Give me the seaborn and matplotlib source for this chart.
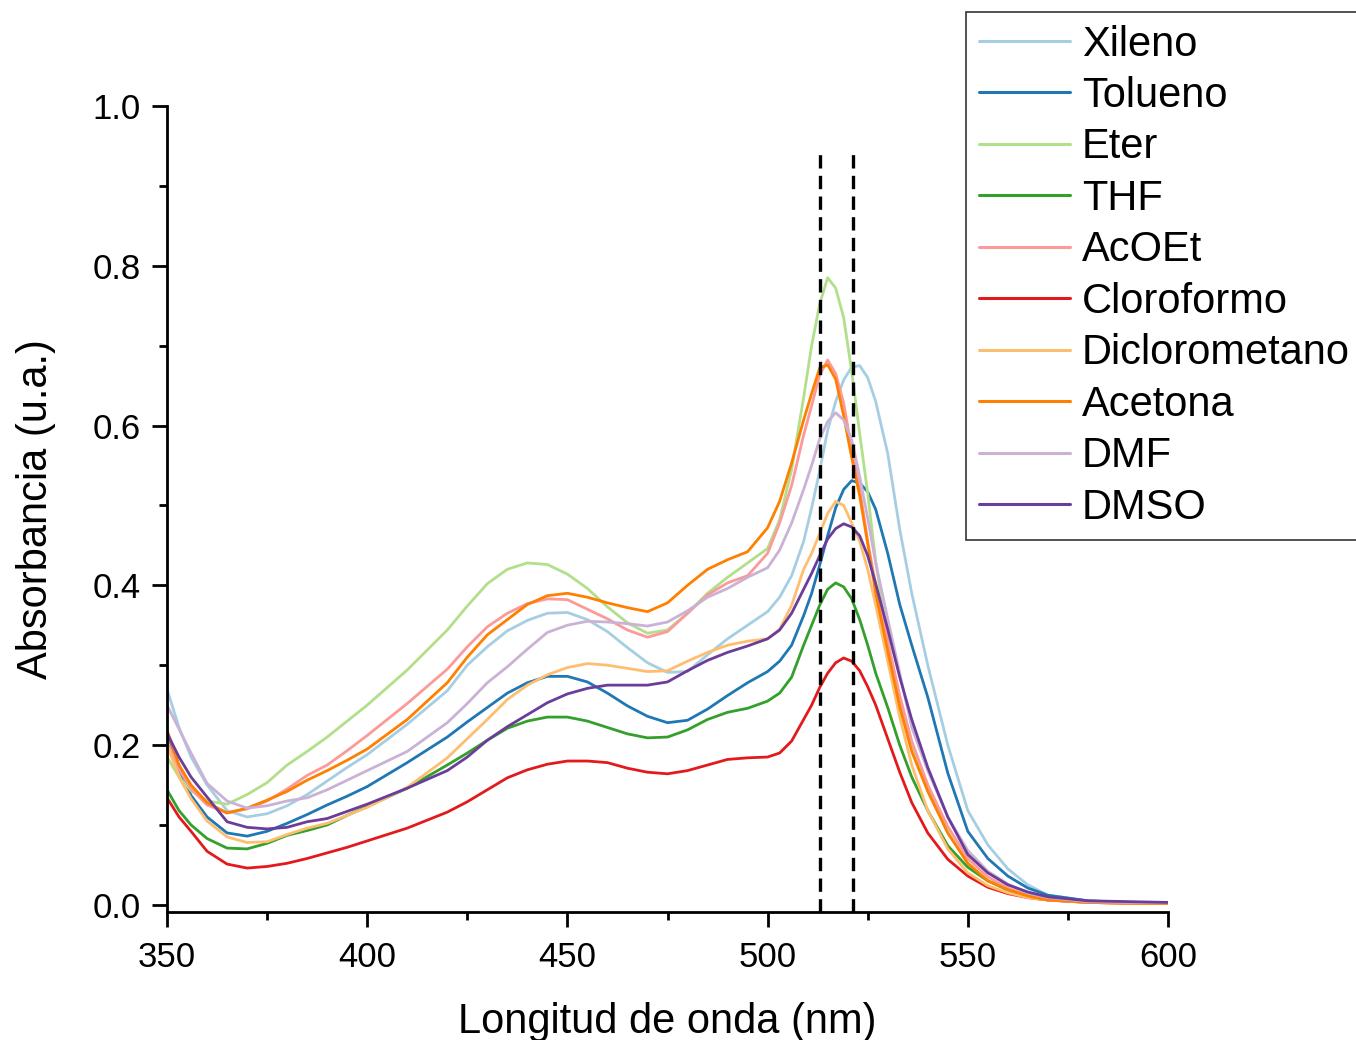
import matplotlib
matplotlib.use("Agg")
import matplotlib.pyplot as plt
from matplotlib.lines import Line2D
from matplotlib.ticker import MultipleLocator, FormatStrFormatter
import numpy as np
import pandas as pd
import seaborn as sns

# ---------------- data ----------------
wavelength = [350, 353, 356, 360, 365, 370, 375, 380, 385, 390, 395, 400, 410, 420, 425,
              430, 435, 440, 445, 450, 455, 460, 465, 470, 475, 480, 485, 490, 495, 500,
              503, 506, 509, 511, 513, 515, 517, 519, 521, 523, 525, 527, 530, 533, 536,
              540, 545, 550, 555, 560, 565, 570, 580, 590, 600]

xileno = [.270, .222, .185, .150, .118, .110, .114, .124, .138, .155, .172, .188, .226, .268, .300,
          .323, .343, .356, .365, .366, .357, .342, .322, .303, .291, .292, .313, .333, .350, .367,
          .385, .412, .455, .497, .543, .594, .630, .657, .673, .675, .660, .630, .565, .470, .390,
          .300, .200, .118, .075, .045, .025, .012, .005, .003, .003]

tolueno = [.215, .170, .137, .110, .090, .086, .092, .102, .113, .125, .136, .148, .178, .210, .229,
           .247, .265, .278, .286, .286, .279, .265, .249, .236, .228, .231, .245, .262, .278, .292,
           .305, .325, .362, .390, .425, .462, .497, .520, .531, .528, .517, .495, .440, .376, .325,
           .260, .165, .092, .058, .036, .021, .012, .005, .003, .003]

eter = [.185, .160, .143, .130, .126, .138, .153, .175, .192, .210, .230, .250, .294, .344, .374,
        .402, .420, .428, .426, .414, .396, .373, .353, .340, .344, .365, .390, .410, .428, .446,
        .482, .545, .635, .700, .752, .785, .772, .735, .668, .590, .515, .430, .330, .255, .200,
        .150, .090, .052, .030, .018, .010, .006, .003, .002, .002]

thf = [.144, .118, .100, .083, .071, .070, .077, .087, .093, .100, .112, .123, .146, .175, .190,
       .206, .221, .230, .235, .235, .230, .222, .214, .209, .210, .219, .232, .241, .246, .255,
       .265, .285, .325, .350, .375, .395, .403, .398, .383, .357, .325, .290, .247, .200, .160,
       .118, .074, .047, .030, .019, .012, .008, .004, .003, .003]

acoet = [.205, .170, .145, .125, .115, .120, .130, .145, .162, .175, .193, .212, .252, .295, .323,
         .348, .365, .377, .383, .382, .370, .358, .344, .335, .342, .365, .388, .403, .412, .440,
         .478, .525, .588, .625, .663, .682, .665, .628, .570, .522, .455, .400, .330, .262, .205,
         .150, .098, .058, .035, .021, .012, .007, .004, .003, .002]

cloroformo = [.134, .110, .092, .067, .051, .046, .048, .052, .058, .065, .072, .080, .096, .116, .129,
              .144, .159, .169, .176, .180, .180, .178, .171, .166, .164, .168, .175, .182, .184, .185,
              .190, .205, .232, .250, .272, .290, .303, .309, .305, .293, .273, .250, .208, .166, .128,
              .090, .057, .036, .022, .014, .009, .006, .003, .002, .002]

diclorometano = [.200, .160, .133, .105, .085, .078, .079, .088, .096, .102, .112, .122, .147, .184, .208,
                 .232, .257, .275, .288, .297, .302, .300, .296, .292, .293, .305, .316, .325, .330, .333,
                 .345, .375, .420, .440, .465, .490, .505, .500, .478, .455, .420, .375, .305, .235, .175,
                 .118, .070, .040, .024, .015, .009, .006, .003, .002, .002]

acetona = [.219, .175, .150, .128, .115, .121, .131, .142, .156, .168, .181, .195, .232, .278, .310,
           .338, .357, .376, .387, .390, .385, .378, .372, .367, .378, .400, .420, .432, .442, .472,
           .505, .553, .607, .640, .672, .676, .658, .612, .560, .512, .452, .390, .318, .248, .192,
           .142, .090, .052, .030, .019, .011, .006, .003, .002, .002]

dmf = [.250, .220, .190, .152, .130, .121, .124, .130, .134, .144, .156, .168, .192, .228, .252,
       .278, .298, .320, .341, .350, .355, .354, .352, .349, .354, .368, .385, .396, .410, .422,
       .444, .478, .520, .550, .583, .605, .616, .607, .582, .536, .484, .428, .358, .290, .222,
       .168, .110, .068, .042, .026, .015, .009, .004, .003, .003]

dmso = [.215, .185, .160, .135, .104, .097, .095, .097, .104, .108, .117, .126, .146, .168, .185,
        .206, .223, .238, .253, .264, .271, .275, .275, .275, .279, .293, .306, .316, .324, .333,
        .344, .365, .395, .415, .437, .458, .471, .477, .473, .462, .437, .402, .345, .285, .232,
        .172, .110, .063, .040, .025, .016, .010, .005, .004, .003]

solvents = ["Xileno", "Tolueno", "Eter", "THF", "AcOEt", "Cloroformo",
            "Diclorometano", "Acetona", "DMF", "DMSO"]
series = [xileno, tolueno, eter, thf, acoet, cloroformo,
          diclorometano, acetona, dmf, dmso]

ref_lines = [513.2, 521.4]   # dashed reference wavelengths
ref_top = 0.945

# ---------------- style ----------------
sns.set_theme(style="ticks")
plt.rcParams['font.family'] = ['Liberation Sans', 'DejaVu Sans']
plt.rcParams['text.color'] = 'black'
plt.rcParams['axes.labelcolor'] = 'black'
plt.rcParams['xtick.color'] = 'black'
plt.rcParams['ytick.color'] = 'black'

colors = sns.color_palette("Paired", 10)

df = pd.DataFrame({
    "nm": np.tile(wavelength, len(solvents)),
    "abs": np.concatenate([np.asarray(s, dtype=float) for s in series]),
    "Solvente": np.repeat(solvents, len(wavelength)),
})

fig = plt.figure(figsize=(13.56, 10.4), dpi=100)
ax = fig.add_axes([167 / 1356, 128 / 1040, 1001 / 1356, 806 / 1040])

sns.lineplot(data=df, x="nm", y="abs", hue="Solvente", hue_order=solvents,
             palette=colors, linewidth=2.0, estimator=None, legend=False, ax=ax)

ax.vlines(ref_lines, ymin=-0.009, ymax=ref_top, colors="black",
          linestyles=(0, (4, 2.2)), linewidth=2.4, zorder=5)

ax.set_xlim(350, 600)
ax.set_ylim(-0.009, 1.0)
ax.xaxis.set_major_locator(MultipleLocator(50))
ax.xaxis.set_minor_locator(MultipleLocator(25))
ax.yaxis.set_major_locator(MultipleLocator(0.2))
ax.yaxis.set_minor_locator(MultipleLocator(0.1))
ax.yaxis.set_major_formatter(FormatStrFormatter('%.1f'))

for side in ["top", "right"]:
    ax.spines[side].set_visible(False)
for side in ["left", "bottom"]:
    ax.spines[side].set_linewidth(2.0)
    ax.spines[side].set_color("black")

ax.tick_params(axis="both", which="major", direction="out", length=11, width=2.0,
               labelsize=25, pad=8)
ax.tick_params(axis="x", which="major", pad=10)
ax.tick_params(axis="both", which="minor", direction="out", length=5.5, width=2.0)

ax.set_xlabel("Longitud de onda (nm)", fontsize=30, labelpad=20)
ax.set_ylabel("Absorbancia (u.a.)", fontsize=30, labelpad=26)

handles = [Line2D([0], [0], color=c, linewidth=2.2) for c in colors]
leg = fig.legend(handles, solvents, loc="upper left",
                 bbox_to_anchor=(966 / 1356, 1 - 12 / 1040),
                 fontsize=30, frameon=True, fancybox=False, framealpha=1,
                 edgecolor="#333333", handlelength=2.2, handletextpad=0.28,
                 borderpad=0.3, labelspacing=0.275, borderaxespad=0)
leg.get_frame().set_linewidth(1.2)

fig.savefig("out.png", dpi=100)
